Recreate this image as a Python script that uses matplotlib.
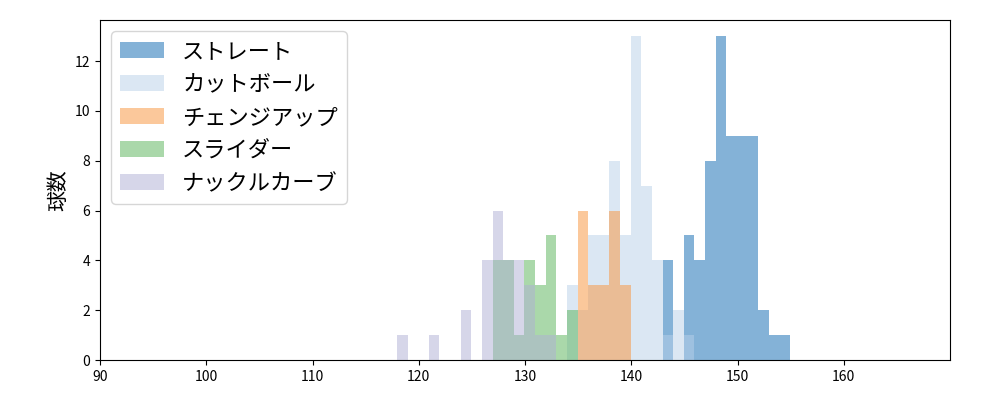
import matplotlib
matplotlib.use("Agg")
import matplotlib.pyplot as plt
import numpy as np

plt.rcParams['font.family'] = ['Noto Sans CJK JP', 'DejaVu Sans']

labels = ["ストレート", "カットボール", "チェンジアップ", "スライダー", "ナックルカーブ"]
colors = ["#0b67b1", "#b9d1e9", "#f99339", "#57b357", "#afafd5"]

straight_start = 143
straight_counts = [4, 0, 5, 4, 8, 13, 9, 9, 9, 2, 1, 1]
cutter_start = 134
cutter_counts = [3, 2, 5, 5, 8, 5, 13, 7, 4, 1, 2, 1]
change_start = 135
change_counts = [6, 3, 3, 6, 3]
slider_start = 127
slider_counts = [4, 4, 1, 4, 3, 5, 1, 2]
knuckle_start = 118
knuckle_counts = [1, 0, 0, 1, 0, 0, 2, 0, 4, 6, 4, 4, 3, 1, 1]

series = [(straight_start, straight_counts), (cutter_start, cutter_counts),
          (change_start, change_counts), (slider_start, slider_counts),
          (knuckle_start, knuckle_counts)]

fig, ax = plt.subplots(figsize=(10, 4), dpi=100)
for (start, counts), lab, col in zip(series, labels, colors):
    edges = start + np.arange(len(counts) + 1) - 0.05
    centers = edges[:-1] + 0.5
    ax.hist(centers, bins=edges, weights=counts, color=col, alpha=0.5, label=lab)

ax.set_xlim(90, 170)
ax.set_ylim(0, 13.65)
ax.set_xticks(np.arange(90, 161, 10))
ax.set_yticks(np.arange(0, 13, 2))
ax.set_ylabel("球数", fontsize=15)
ax.legend(loc="upper left", fontsize=16, labelspacing=0.45)
fig.subplots_adjust(left=0.1, right=0.95, bottom=0.1, top=0.95)
fig.savefig("out.png")
